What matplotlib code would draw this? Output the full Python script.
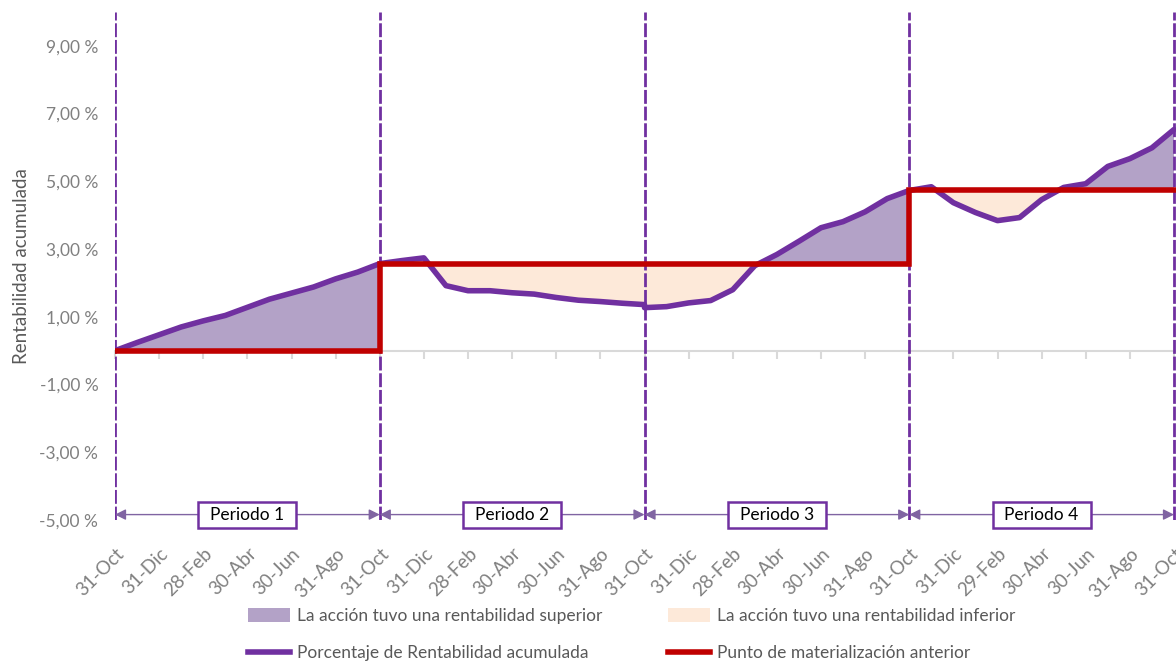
import numpy as np
import matplotlib.pyplot as plt
from matplotlib.patches import Patch, Rectangle
from matplotlib.lines import Line2D

plt.rcParams['font.family'] = ['Lato', 'DejaVu Sans']

# rentabilidad acumulada (%) mes a mes, un array por periodo (13 puntos cada uno)
rent_p1 = [0.00, 0.24, 0.47, 0.70, 0.88, 1.04, 1.28, 1.52, 1.70, 1.88, 2.12, 2.32, 2.57]
rent_p2 = [2.57, 2.66, 2.74, 1.92, 1.77, 1.77, 1.71, 1.67, 1.57, 1.49, 1.45, 1.40, 1.36]
rent_p3 = [1.27, 1.30, 1.41, 1.48, 1.80, 2.51, 2.84, 3.23, 3.63, 3.81, 4.10, 4.49, 4.73]
rent_p4 = [4.73, 4.84, 4.37, 4.08, 3.84, 3.93, 4.46, 4.82, 4.93, 5.44, 5.67, 5.99, 6.53]
periodos = [rent_p1, rent_p2, rent_p3, rent_p4]

# punto de materializacion anterior en cada periodo
ref_level = [0.00, 2.57, 2.57, 4.73]

periodo_labels = ["Periodo 1", "Periodo 2", "Periodo 3", "Periodo 4"]

tick_labels = ["31-Oct", "31-Dic", "28-Feb", "30-Abr", "30-Jun", "31-Ago",
               "31-Oct", "31-Dic", "28-Feb", "30-Abr", "30-Jun", "31-Ago",
               "31-Oct", "31-Dic", "28-Feb", "30-Abr", "30-Jun", "31-Ago",
               "31-Oct", "31-Dic", "29-Feb", "30-Abr", "30-Jun", "31-Ago",
               "31-Oct"]

y_ticks = [-5, -3, -1, 1, 3, 5, 7, 9]

c_line = '#7030a0'
c_red = '#c00000'
c_sup = '#b3a2c7'
c_inf = '#fde9d9'
c_arrow = '#8064a2'
c_text = '#595959'
c_tick = '#808080'

fig = plt.figure(figsize=(11.76, 6.61), dpi=100)
ax = fig.add_axes([115 / 1176, 141 / 661, 1061 / 1176, 508 / 661])

n = len(rent_p1) - 1
for i, vals in enumerate(periodos):
    x = np.arange(i * n, (i + 1) * n + 1)
    y = np.array(vals)
    r = np.full_like(y, ref_level[i])
    ax.fill_between(x, y, r, where=y >= r, interpolate=True, color=c_sup, lw=0, zorder=1)
    ax.fill_between(x, y, r, where=y <= r, interpolate=True, color=c_inf, lw=0, zorder=1)
    ax.plot(x, y, color=c_line, lw=4, solid_capstyle='round', solid_joinstyle='round', zorder=4)

# linea escalonada roja
xr = np.repeat(np.arange(len(periodos) + 1) * n, 2)[1:-1]
yr = np.repeat(ref_level, 2)
ax.plot(xr, yr, color=c_red, lw=4, solid_joinstyle='miter', zorder=5)

# lineas verticales discontinuas en los limites
for i in range(len(periodos) + 1):
    ax.axvline(i * n, color=c_line, lw=2, dashes=(5, 1), zorder=3)

# flechas y cajas de periodo
y_arr = -4.84
for i, lab in enumerate(periodo_labels):
    ax.annotate('', xy=(i * n, y_arr), xytext=((i + 1) * n, y_arr),
                arrowprops=dict(arrowstyle='<|-|>', color=c_arrow, lw=1,
                                shrinkA=0, shrinkB=0, mutation_scale=16),
                zorder=6)
    cx = i * n + n / 2
    ax.add_patch(Rectangle((cx - 2.22, y_arr - 0.385), 4.44, 0.77, clip_on=False,
                           facecolor='white', edgecolor=c_line, lw=1.8, zorder=7))
    ax.text(cx, y_arr, lab, ha='center', va='center', fontsize=12.5, color='black', zorder=8)

ax.set_xlim(0, 48 * 1061 / 1059)
ax.set_ylim(-5, 10)

# eje x cruzando en 0, con marcas hacia abajo
for s in ['top', 'right', 'left']:
    ax.spines[s].set_visible(False)
ax.spines['bottom'].set_position(('data', 0))
ax.spines['bottom'].set_color('#d9d9d9')
ax.spines['bottom'].set_linewidth(1.5)
ax.spines['bottom'].set_zorder(0)
xt = np.arange(0, 4 * n + 1, 2)
ax.set_xticks(xt)
ax.tick_params(axis='x', direction='out', length=6, width=1.5, color='#d9d9d9', labelbottom=False)

sec = ax.secondary_xaxis(0.0)
sec.set_xticks(xt)
sec.set_xticklabels(tick_labels, rotation=45, ha='right', rotation_mode='anchor',
                    fontsize=13.5, color=c_tick)
sec.tick_params(length=0, pad=18)
sec.spines['bottom'].set_visible(False)

ax.set_yticks(y_ticks)
ax.set_yticklabels([f"{v:.2f} %".replace('.', ',') for v in y_ticks], fontsize=12.5, color=c_tick)
ax.tick_params(axis='y', length=0, pad=12)
ax.set_ylabel("Rentabilidad acumulada", fontsize=13.5, color=c_text, labelpad=7)

handles = [Patch(facecolor=c_sup, edgecolor='none'),
           Line2D([], [], color=c_line, lw=4),
           Patch(facecolor=c_inf, edgecolor='none'),
           Line2D([], [], color=c_red, lw=4)]
labels = ["La acción tuvo una rentabilidad superior",
          "Porcentaje de Rentabilidad acumulada",
          "La acción tuvo una rentabilidad inferior",
          "Punto de materialización anterior"]
leg = fig.legend(handles, labels, ncol=2, loc='center', bbox_to_anchor=(0.537, 0.04),
                 frameon=False, fontsize=12.5, handlelength=2.4, handleheight=0.8,
                 handletextpad=0.4, columnspacing=3.8, labelspacing=1.2)
for t in leg.get_texts():
    t.set_color(c_text)

fig.savefig('out.png', dpi=100)
